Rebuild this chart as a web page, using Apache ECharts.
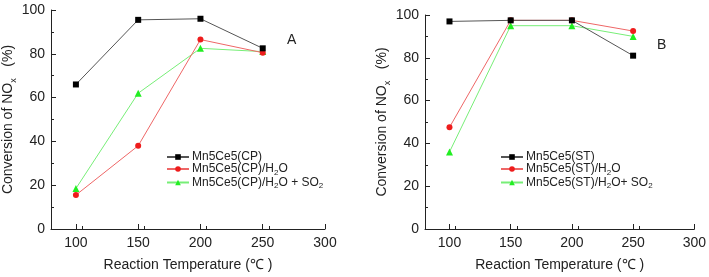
<!DOCTYPE html>
<html><head><meta charset="utf-8">
<script src="https://cdn.jsdelivr.net/npm/echarts@6/dist/echarts.min.js"></script>
<style>html,body{margin:0;padding:0;background:#fff}#c{width:709px;height:277px}</style>
</head><body><div id="c"></div>
<script>
const temps = [100, 150, 200, 250];
const namesA = ['Mn5Ce5(CP)', 'Mn5Ce5(CP)/H2O', 'Mn5Ce5(CP)/H2O + SO2'];
const cpDry = [66, 95.5, 96, 82.5];
const cpH2O = [15.5, 38, 86.5, 80.5];
const cpH2OSO2 = [18.5, 62, 82.5, 81];
const namesB = ['Mn5Ce5(ST)', 'Mn5Ce5(ST)/H2O', 'Mn5Ce5(ST)/H2O+ SO2'];
const stDry = [97, 97.5, 97.5, 81];
const stH2O = [47.5, 97.5, 97.5, 92.5];
const stH2OSO2 = [36, 95, 95, 90];
const xTicks = [100, 150, 200, 250, 300];
const yTicks = [0, 20, 40, 60, 80, 100];

const FONT = 'Liberation Sans, Arial, sans-serif';
const colors = ['#000000', '#ee1c1c', '#22ee22'];
const lineColors = ['#555555', '#ee6666', '#77ee77'];
const symbols = ['rect', 'circle', 'triangle'];
const symSizes = [6, 6, 7];

function pts(vals){ return temps.map((t,i)=>[t, vals[i]]); }
function sub(s){ return s.replace(/H2O/g,'H{sub|2}O').replace(/SO2/g,'SO{sub|2}'); }

const chart = echarts.init(document.getElementById('c'));
function xAxis(gi){
  return {gridIndex: gi, type:'value', min:80, max:300, interval:50,
    axisLine:{show:true, onZero:false, lineStyle:{color:'#222', width:1}},
    axisTick:{show:true, inside:true, length:5, lineStyle:{color:'#222'}, customValues: xTicks},
    minorTick:{show:true, splitNumber:2, length:3, lineStyle:{color:'#222'}},
    splitLine:{show:false},
    axisLabel:{color:'#222', fontSize:14, fontFamily:FONT, margin:7, customValues: xTicks},
    name:'Reaction Temperature (℃ )', nameLocation:'middle', nameGap:29,
    nameTextStyle:{color:'#222', fontSize:14, fontFamily:FONT}};
}
function yAxis(gi){
  return {gridIndex: gi, type:'value', min:0, max:100, interval:20,
    axisLine:{show:true, lineStyle:{color:'#222', width:1}},
    axisTick:{show:true, inside:true, length:5, lineStyle:{color:'#222'}},
    minorTick:{show:true, splitNumber:2, length:3, lineStyle:{color:'#222'}},
    splitLine:{show:false},
    axisLabel:{color:'#222', fontSize:14, fontFamily:FONT, margin:6},
    name:'Conversion of NO{sub|x}   (%)', nameLocation:'middle', nameGap:32, nameRotate:90,
    nameTextStyle:{color:'#222', fontSize:14, fontFamily:FONT,
      rich:{sub:{fontSize:9, verticalAlign:'bottom', padding:[10,0,0,0], fontFamily:FONT, color:'#222'}}}};
}
function series(names, data, gi){
  return names.map((n,i)=>({name:n, type:'line', xAxisIndex:gi, yAxisIndex:gi,
    data:pts(data[i]), symbol:symbols[i], symbolSize:symSizes[i],
    itemStyle:{color:colors[i]}, lineStyle:{color:lineColors[i], width:1}, z: 3 - i}));
}
function legend(names, left, top){
  return {data:names, orient:'vertical', left:left, top:top, itemGap:0,
    itemWidth:22, itemHeight:7, icon:null, padding:0,
    formatter:(n)=>sub(n),
    textStyle:{color:'#222', fontSize:12, fontFamily:FONT, padding:[0,0,0,-2],
      rich:{sub:{fontSize:8, verticalAlign:'bottom', padding:[7,0,0,0], fontFamily:FONT, color:'#222'}}}};
}
chart.setOption({
  animation:false,
  grid:[{left:51, top:10, width:274, height:222},
        {left:425, top:15, width:273, height:222}],
  xAxis:[xAxis(0), xAxis(1)],
  yAxis:[yAxis(0), yAxis(1)],
  legend:[legend(namesA, 166, 151), legend(namesB, 500, 151)],
  series:[...series(namesA,[cpDry,cpH2O,cpH2OSO2],0), ...series(namesB,[stDry,stH2O,stH2OSO2],1)],
  graphic:[
    {type:'text', left:287, top:33, style:{text:'A', fontSize:14, fontFamily:FONT, fill:'#222'}},
    {type:'text', left:657, top:38, style:{text:'B', fontSize:14, fontFamily:FONT, fill:'#222'}}
  ]
});
</script></body></html>
